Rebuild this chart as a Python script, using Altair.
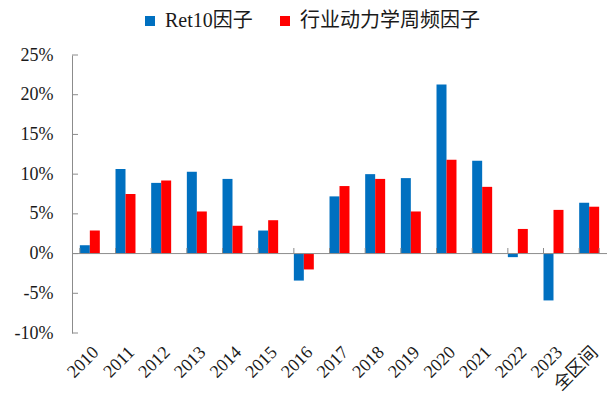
import altair as alt
import pandas as pd

categories = ["2010", "2011", "2012", "2013", "2014", "2015", "2016", "2017",
              "2018", "2019", "2020", "2021", "2022", "2023", "全区间"]
series_names = ["Ret10因子", "行业动力学周频因子"]
ret10 = [1.05, 10.65, 8.9, 10.3, 9.4, 2.9, -3.4, 7.2, 10.0, 9.5, 21.3, 11.7, -0.45, -5.9, 6.4]
industry = [2.9, 7.5, 9.2, 5.3, 3.5, 4.2, -2.0, 8.5, 9.4, 5.3, 11.8, 8.4, 3.1, 5.5, 5.9]
y_ticks = [-10, -5, 0, 5, 10, 15, 20, 25]
colors = ["#0070C0", "#FF0000"]

FONT = "'Liberation Serif', 'Times New Roman', 'Noto Sans CJK SC', serif"
GRAY = "#8c8c8c"

rows = []
for c, a, b in zip(categories, ret10, industry):
    rows.append({"cat": c, "series": series_names[0], "value": a})
    rows.append({"cat": c, "series": series_names[1], "value": b})
df = pd.DataFrame(rows)

xscale = alt.Scale(domain=categories, paddingInner=0.44, paddingOuter=0.22)
yscale = alt.Scale(domain=[-10, 25], nice=False, zero=False)

xaxis = alt.Axis(title=None, labelAngle=-45, labelAlign="right", labelBaseline="top",
                 labelPadding=10, ticks=False, domain=False,
                 labelFont=FONT, labelFontSize=18, labelColor="#1a1a1a")
yaxis = alt.Axis(title=None, values=y_ticks, labelExpr="datum.value + '%'",
                 ticks=False, grid=False, domain=True, domainColor=GRAY,
                 labelPadding=19, labelFont=FONT, labelFontSize=18,
                 labelColor="#1a1a1a")

bars = alt.Chart(df).mark_bar().encode(
    x=alt.X("cat:N", scale=xscale, sort=categories, axis=xaxis),
    xOffset=alt.XOffset("series:N", sort=series_names,
                        scale=alt.Scale(domain=series_names, paddingInner=0, paddingOuter=0)),
    y=alt.Y("value:Q", scale=yscale, axis=yaxis),
    color=alt.Color("series:N", sort=series_names,
                    scale=alt.Scale(domain=series_names, range=colors),
                    legend=alt.Legend(title=None, orient="none", direction="horizontal",
                                      legendX=68, legendY=-44, symbolType="square",
                                      symbolSize=100, symbolStrokeWidth=0, labelLimit=0,
                                      labelFont=FONT, labelFontSize=20, labelColor="#1a1a1a",
                                      columnPadding=22, labelOffset=5)),
)

zero_line = alt.Chart(pd.DataFrame({"value": [0]})).mark_rule(color=GRAY, strokeWidth=1).encode(
    y=alt.Y("value:Q", scale=yscale, axis=yaxis)
)

tick_df = pd.DataFrame({"cat": categories, "value": [0] * len(categories),
                        "value2": [0.7] * len(categories)})
xticks = alt.Chart(tick_df).mark_rule(color=GRAY, strokeWidth=1).encode(
    x=alt.X("cat:N", scale=xscale, sort=categories, bandPosition=0, axis=xaxis),
    y=alt.Y("value:Q", scale=yscale, axis=yaxis),
    y2="value2:Q",
)
xtick_end = alt.Chart(tick_df.tail(1)).mark_rule(color=GRAY, strokeWidth=1).encode(
    x=alt.X("cat:N", scale=xscale, sort=categories, bandPosition=1, axis=xaxis),
    y=alt.Y("value:Q", scale=yscale, axis=yaxis),
    y2="value2:Q",
)

yt = alt.Chart(pd.DataFrame({"value": y_ticks})).mark_rule(color=GRAY, strokeWidth=1).encode(
    y=alt.Y("value:Q", scale=yscale, axis=yaxis),
    x=alt.value(0),
    x2=alt.value(6),
)

chart = alt.layer(bars, zero_line, xticks, xtick_end, yt).properties(
    width=535, height=278,
    autosize=alt.AutoSizeParams(type="none"),
    padding={"left": 64, "top": 47, "right": 0, "bottom": 61},
).configure_view(stroke=None)

chart.save("out.html", embed_options={"renderer": "svg", "actions": False})
